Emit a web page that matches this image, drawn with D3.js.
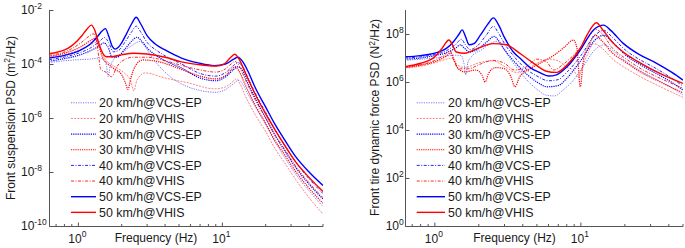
<!DOCTYPE html>
<html><head><meta charset="utf-8">
<script src="https://cdn.jsdelivr.net/npm/d3@7"></script>
<style>body{margin:0;background:#fff} text{font-family:"Liberation Sans",Arial,sans-serif;fill:#1a1a1a}</style>
</head><body><svg id="c" width="685" height="248"></svg>
<script>
// ---- Data: [frequency Hz, log10(PSD)] ----
// Left panel: front suspension PSD (m^2/Hz)
const L_VCS20 = [[0.625,-3.95],[0.8,-3.88],[1.0,-3.84],[1.2,-3.82],[1.4,-3.78],[1.5,-3.85],[1.57,-4.1],[1.61,-4.47],[1.66,-4.1],[1.75,-3.85],[2.0,-3.6],[2.3,-3.35],[2.68,-3.17],[2.9,-3.35],[3.2,-3.7],[3.6,-4.05],[4.3,-4.45],[5.5,-4.8],[7,-4.98],[9,-5.05],[10.5,-4.95],[12,-4.72],[13,-4.6],[14,-4.78],[15,-5.1],[17,-5.6],[20,-6.25],[23,-6.85],[27,-7.45],[32,-8.05],[40,-8.7],[50,-9.28]];
const L_VHIS20 = [[0.625,-3.75],[0.85,-3.62],[1.05,-3.45],[1.22,-3.28],[1.33,-3.2],[1.42,-3.45],[1.55,-3.85],[1.8,-4.1],[2.1,-4.35],[2.3,-4.6],[2.43,-5.0],[2.55,-4.6],[2.9,-4.33],[4.0,-4.52],[5.8,-4.7],[8.8,-4.92],[10.5,-4.85],[12,-4.62],[12.5,-4.55],[13.3,-4.75],[14.5,-5.2],[17,-5.9],[20,-6.5],[23,-7.1],[27,-7.65],[32,-8.25],[40,-8.95],[50,-9.56]];
const L_VCS30 = [[0.625,-3.9],[0.8,-3.8],[1.0,-3.68],[1.2,-3.52],[1.38,-3.35],[1.5,-3.22],[1.6,-3.35],[1.72,-3.75],[1.85,-3.75],[2.1,-3.45],[2.35,-3.15],[2.55,-3.01],[2.75,-3.15],[3.0,-3.4],[3.5,-3.7],[4.0,-3.88],[5.2,-4.15],[7,-4.52],[9,-4.62],[10.5,-4.48],[12,-4.2],[12.8,-4.1],[14,-4.3],[15,-4.7],[17,-5.3],[20,-6.0],[23,-6.6],[27,-7.2],[32,-7.8],[40,-8.45],[50,-9.0]];
const L_VHIS30 = [[0.625,-3.72],[0.85,-3.56],[1.05,-3.35],[1.2,-3.15],[1.3,-3.05],[1.38,-3.3],[1.47,-3.75],[1.6,-4.0],[1.8,-4.2],[2.0,-4.4],[2.12,-4.7],[2.21,-4.94],[2.32,-4.5],[2.5,-4.05],[2.8,-3.85],[3.5,-3.9],[5.2,-4.2],[7,-4.45],[9,-4.55],[10.5,-4.43],[11.5,-4.22],[12.3,-4.1],[13,-4.25],[14.5,-4.8],[17,-5.55],[20,-6.2],[23,-6.8],[27,-7.35],[32,-7.95],[40,-8.6],[50,-9.16]];
const L_VCS40 = [[0.625,-3.84],[0.8,-3.74],[1.0,-3.6],[1.2,-3.42],[1.38,-3.2],[1.52,-3.02],[1.62,-3.2],[1.75,-3.55],[1.9,-3.5],[2.1,-3.2],[2.35,-2.8],[2.52,-2.6],[2.7,-2.8],[3.0,-3.2],[3.5,-3.5],[4.0,-3.7],[5.2,-4.0],[7,-4.35],[9,-4.45],[10.5,-4.32],[12,-4.05],[12.8,-3.95],[14,-4.15],[15,-4.5],[17,-5.1],[20,-5.8],[23,-6.4],[27,-7.0],[32,-7.6],[40,-8.25],[50,-8.8]];
const L_VHIS40 = [[0.625,-3.68],[0.85,-3.5],[1.05,-3.2],[1.18,-2.98],[1.27,-2.88],[1.34,-3.2],[1.39,-3.8],[1.43,-4.2],[1.55,-4.3],[1.7,-4.47],[1.85,-4.1],[2.0,-3.9],[2.4,-3.75],[3.0,-3.75],[4.0,-3.88],[5.2,-4.05],[7,-4.22],[9,-4.3],[10.5,-4.18],[11.5,-4.0],[12.3,-3.9],[13,-4.05],[14.5,-4.6],[17,-5.35],[20,-6.0],[23,-6.6],[27,-7.15],[32,-7.75],[40,-8.4],[50,-8.95]];
const L_VCS50 = [[0.625,-3.78],[0.8,-3.68],[1.0,-3.52],[1.2,-3.28],[1.35,-3.0],[1.46,-2.78],[1.54,-2.69],[1.62,-2.95],[1.72,-3.35],[1.8,-3.45],[1.95,-3.3],[2.15,-2.9],[2.35,-2.5],[2.52,-2.27],[2.7,-2.5],[3.0,-2.95],[3.4,-3.25],[4.0,-3.48],[5.2,-3.78],[6.8,-3.96],[8.8,-4.06],[10.5,-4.0],[12,-3.82],[12.8,-3.75],[14,-3.95],[15,-4.25],[17,-4.9],[20,-5.6],[23,-6.2],[27,-6.8],[32,-7.4],[40,-8.0],[50,-8.5]];
const L_VHIS50 = [[0.625,-3.62],[0.85,-3.41],[1.05,-2.97],[1.15,-2.7],[1.23,-2.56],[1.3,-2.75],[1.37,-3.15],[1.44,-3.48],[1.57,-3.73],[1.75,-3.72],[2.0,-3.66],[2.4,-3.6],[3.0,-3.63],[4.0,-3.75],[5.2,-3.92],[7,-4.03],[9,-4.08],[10.3,-4.0],[11.3,-3.78],[12.2,-3.64],[13,-3.8],[14.5,-4.35],[17,-5.15],[20,-5.85],[23,-6.4],[27,-7.0],[32,-7.6],[40,-8.2],[50,-8.72]];

// Right panel: front tire dynamic force PSD (N^2/Hz)
const R_VCS20 = [[0.625,6.9],[0.8,6.95],[1.0,7.0],[1.2,7.08],[1.4,7.12],[1.52,7.1],[1.58,6.8],[1.63,6.3],[1.68,6.8],[1.78,7.05],[2.1,7.35],[2.4,7.6],[2.65,7.7],[2.9,7.45],[3.3,6.95],[3.8,6.45],[4.4,6.0],[5.0,5.7],[5.8,5.45],[6.6,5.42],[7.5,5.65],[8.9,6.08],[10.5,6.7],[12.5,7.35],[14.5,7.55],[17,7.25],[20,6.9],[25,6.5],[33,6.1],[42,5.75],[50,5.46]];
const R_VHIS20 = [[0.625,6.58],[0.8,6.66],[1.0,6.8],[1.2,6.95],[1.3,7.0],[1.4,6.75],[1.6,6.6],[2.0,6.8],[2.5,6.88],[3.0,6.65],[3.6,6.4],[4.2,6.5],[5.0,6.78],[6.0,6.95],[7.0,6.88],[8.0,6.62],[9.0,6.45],[9.6,6.2],[10.2,6.6],[11,7.1],[12.3,7.6],[14,7.4],[16.5,6.95],[20,6.6],[25,6.25],[35,5.8],[50,5.36]];
const R_VCS30 = [[0.625,6.95],[0.8,7.0],[1.0,7.1],[1.2,7.22],[1.38,7.4],[1.5,7.55],[1.6,7.4],[1.72,7.25],[1.95,7.35],[2.25,7.65],[2.55,7.9],[2.75,7.7],[3.0,7.35],[3.5,6.85],[4.3,6.3],[5.0,6.0],[5.9,5.8],[7.0,5.85],[8.0,6.15],[10,6.9],[12.5,7.75],[14.3,7.95],[16.5,7.65],[20,7.15],[25,6.75],[33,6.35],[42,5.98],[50,5.67]];
const R_VHIS30 = [[0.625,6.6],[0.8,6.7],[1.0,6.85],[1.18,7.05],[1.28,7.2],[1.36,6.9],[1.45,6.55],[1.6,6.42],[1.9,6.5],[2.1,6.3],[2.21,6.0],[2.33,6.35],[2.6,6.6],[3.0,6.55],[3.3,6.25],[3.54,5.8],[3.8,6.2],[4.5,6.55],[5.5,6.85],[6.5,7.1],[7.7,7.45],[8.9,7.75],[9.4,7.4],[9.9,5.8],[10.4,6.9],[11.3,7.5],[12.5,7.95],[14,7.7],[16.5,7.2],[20,6.85],[25,6.45],[35,6.0],[50,5.55]];
const R_VCS40 = [[0.625,7.0],[0.8,7.05],[1.0,7.15],[1.2,7.3],[1.38,7.55],[1.52,7.78],[1.62,7.55],[1.75,7.35],[1.95,7.5],[2.25,7.95],[2.52,8.32],[2.72,8.05],[3.0,7.6],[3.5,7.05],[4.3,6.5],[5.0,6.25],[6.0,6.05],[7.0,6.1],[8.0,6.4],[10,7.1],[12.5,7.95],[14.3,8.15],[16.5,7.85],[20,7.35],[25,6.95],[33,6.55],[42,6.15],[50,5.83]];
const R_VHIS40 = [[0.625,6.62],[0.8,6.72],[1.0,6.9],[1.15,7.1],[1.27,7.3],[1.35,6.9],[1.45,6.55],[1.7,6.55],[2.0,6.72],[2.5,6.9],[3.0,6.78],[3.5,6.5],[4.2,6.62],[5.0,6.95],[5.8,6.85],[6.5,6.5],[7.5,6.72],[8.5,7.0],[10,7.45],[11.5,7.95],[12.6,8.2],[14,8.0],[16.5,7.4],[20,7.0],[25,6.6],[35,6.15],[50,5.74]];
const R_VCS50 = [[0.625,7.05],[0.8,7.1],[1.0,7.2],[1.2,7.4],[1.35,7.7],[1.46,7.98],[1.54,8.17],[1.62,7.9],[1.72,7.55],[1.85,7.6],[2.05,7.95],[2.3,8.4],[2.52,8.67],[2.72,8.4],[3.0,7.85],[3.45,7.25],[3.9,6.95],[4.5,6.6],[5.2,6.4],[6.0,6.25],[6.8,6.3],[8.0,6.62],[9.9,7.33],[12.2,8.17],[14.3,8.37],[16,8.15],[19.5,7.61],[25,7.15],[33,6.78],[42,6.4],[50,6.08]];
const R_VHIS50 = [[0.625,6.64],[0.8,6.78],[1.0,7.05],[1.12,7.4],[1.25,7.75],[1.32,7.55],[1.4,7.25],[1.6,7.2],[2.0,7.42],[2.5,7.6],[3.1,7.55],[3.8,7.2],[4.7,6.8],[5.8,6.45],[6.8,6.4],[8.0,6.7],[9.0,7.05],[10,7.45],[11,7.95],[12.8,8.47],[14,8.2],[16.7,7.61],[20,7.2],[25.4,6.8],[35,6.35],[50,5.94]];

const legendLabels = ["20 km/h@VCS-EP","20 km/h@VHIS","30 km/h@VCS-EP","30 km/h@VHIS","40 km/h@VCS-EP","40 km/h@VHIS","50 km/h@VCS-EP","50 km/h@VHIS"];
const xMajorTicks = [1, 10];
const xMinorTicks = [0.7,0.8,0.9,2,3,4,5,6,7,8,9,20,30,40,50];
const leftYTickExps = [-2,-4,-6,-8,-10];
const rightYTickExps = [8,6,4,2,0];

// ---- Styles (per legend entry) ----
const styles = [
  {c:"#0000ff", w:0.9, d:"1.2,1.2", o:0.6},
  {c:"#ff0000", w:0.9, d:"2,1.2", o:0.55},
  {c:"#0000ff", w:1.2, d:"1.2,1", o:1},
  {c:"#ff0000", w:1.2, d:"1.2,1", o:1},
  {c:"#0000ff", w:1.0, d:"3,1.5,1,1.5", o:0.85},
  {c:"#ff0000", w:1.0, d:"3,1.5,1,1.5", o:0.85},
  {c:"#0000ff", w:1.4, d:null, o:1},
  {c:"#ff0000", w:1.4, d:null, o:1}
];

const svg = d3.select("#c");

function panel(cfg){
  const g = svg.append("g");
  const x = d3.scaleLog().domain([0.625, 50]).range([cfg.x0, cfg.x1]);
  const y = d3.scaleLog().domain(cfg.yDomain).range([226, 10]);
  const id = "clip" + cfg.name;
  svg.append("clipPath").attr("id", id).append("rect")
    .attr("x", cfg.x0).attr("y", 10).attr("width", cfg.x1 - cfg.x0).attr("height", 216);
  const line = d3.line().x(d => x(d[0])).y(d => y(Math.pow(10, d[1]))).curve(d3.curveMonotoneX);
  const lg = g.append("g").attr("clip-path", `url(#${id})`);
  cfg.series.forEach((s, i) => {
    const st = styles[i];
    lg.append("path").attr("d", line(s)).attr("fill", "none")
      .attr("stroke", st.c).attr("stroke-width", st.w).attr("stroke-opacity", st.o)
      .attr("stroke-dasharray", st.d).attr("stroke-linejoin", "round");
  });
  const ax = g.append("g").attr("stroke", "#555").attr("stroke-width", 1).attr("fill", "none");
  const X0 = Math.round(cfg.x0) + 0.5;
  ax.append("line").attr("x1", X0).attr("x2", X0).attr("y1", 10).attr("y2", 226.5);
  ax.append("line").attr("x1", X0).attr("x2", cfg.x1).attr("y1", 226.5).attr("y2", 226.5);
  xMajorTicks.forEach(t => ax.append("line").attr("x1", x(t)).attr("x2", x(t)).attr("y1", 226.5).attr("y2", 222.5));
  xMinorTicks.forEach(t => ax.append("line").attr("x1", x(t)).attr("x2", x(t)).attr("y1", 226.5).attr("y2", 224));
  cfg.yTicks.forEach(e => {
    const yy = Math.round(y(Math.pow(10, e))) + 0.5;
    ax.append("line").attr("x1", X0).attr("x2", X0 + 4).attr("y1", yy).attr("y2", yy);
    const t = g.append("text").attr("x", cfg.yLabX).attr("y", y(Math.pow(10, e)) + 4.3).attr("font-size", 12);
    t.append("tspan").text("10");
    t.append("tspan").attr("dy", -5.5).attr("font-size", 8.5).text(String(e));
  });
  xMajorTicks.forEach((v, k) => {
    const t = g.append("text").attr("x", x(v) - 1).attr("y", 243.3).attr("font-size", 12).attr("text-anchor", "middle");
    t.append("tspan").text("10");
    t.append("tspan").attr("dy", -6).attr("font-size", 8.5).text(String(k));
  });
  g.append("text").attr("x", cfg.xTitleX).attr("y", 241.5).attr("font-size", 12).attr("text-anchor", "middle").text("Frequency (Hz)");
  const yt = g.append("text").attr("transform", `translate(${cfg.yTitleX},${cfg.yTitleY}) rotate(-90)`)
    .attr("font-size", 12).attr("text-anchor", "middle");
  yt.append("tspan").text(cfg.yTitle[0]);
  yt.append("tspan").attr("dy", -4.5).attr("font-size", 8.5).text("2");
  yt.append("tspan").attr("dy", 4.5).text(cfg.yTitle[1]);
  const leg = g.append("g");
  legendLabels.forEach((lab, i) => {
    const st = styles[i];
    const yy = 102.8 + i * 15.65;
    leg.append("line").attr("x1", cfg.legX0).attr("x2", cfg.legX1).attr("y1", yy).attr("y2", yy)
      .attr("stroke", st.c).attr("stroke-width", st.w).attr("stroke-opacity", st.o).attr("stroke-dasharray", st.d);
    leg.append("text").attr("x", cfg.legX1 + 3).attr("y", yy + 4.4).attr("font-size", 12.4).text(lab);
  });
}

panel({name:"L", x0:49, x1:323, yDomain:[1e-10, 1e-2], yTicks:leftYTickExps, yLabX:21,
  series:[L_VCS20,L_VHIS20,L_VCS30,L_VHIS30,L_VCS40,L_VHIS40,L_VCS50,L_VHIS50],
  xTitleX:156, yTitleX:14.5, yTitleY:118, yTitle:["Front suspension PSD (m","/Hz)"],
  legX0:71, legX1:96});
panel({name:"R", x0:405, x1:683, yDomain:[1, 1e9], yTicks:rightYTickExps, yLabX:385.7,
  series:[R_VCS20,R_VHIS20,R_VCS30,R_VHIS30,R_VCS40,R_VHIS40,R_VCS50,R_VHIS50],
  xTitleX:514.5, yTitleX:379, yTitleY:117.5, yTitle:["Front tire dynamic force PSD (N","/Hz)"],
  legX0:416.7, legX1:445});
</script></body></html>
